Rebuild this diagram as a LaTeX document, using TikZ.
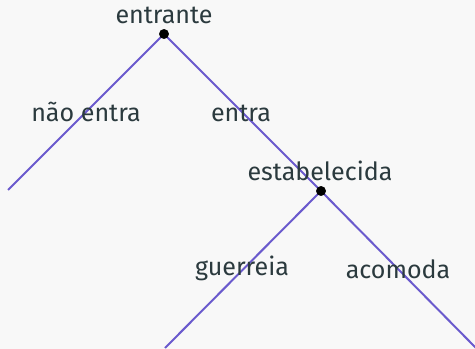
\documentclass[tikz,border=0pt]{standalone}
\usepackage{fontspec}
\setmainfont{Fira Sans}
\definecolor{ramo}{HTML}{6A5ACD}
\definecolor{texto}{HTML}{2B3A3E}
\definecolor{fundo}{HTML}{F8F8F8}
\tikzset{
  rotulo/.style={text=texto, anchor=base, inner sep=0pt, font=\fontsize{18.8}{22}\selectfont},
  galho/.style={color=ramo, line width=1.5pt}
}
\begin{document}
\begin{tikzpicture}[x=0.75pt,y=-0.75pt]
\fill[fundo] (0,0) rectangle (475,349);
\useasboundingbox (0,0) rectangle (475,349);
\coordinate (entrante) at (164,34);
\coordinate (fora) at (8,190);
\coordinate (estab) at (321,191);
\coordinate (guerra) at (165,348);
\coordinate (acomoda) at (476,348);
\draw[galho] (entrante) -- (fora);
\draw[galho] (entrante) -- (estab);
\draw[galho] (estab) -- (guerra);
\draw[galho] (estab) -- (acomoda);
\filldraw[black] (entrante) circle (3.5pt);
\filldraw[black] (estab) circle (3.5pt);
\node[rotulo] (lEntrante) at (164,24) {entrante};
\node[rotulo] (lNaoEntra) at (86,122) {não entra};
\node[rotulo] (lEntra) at (241,122) {entra};
\node[rotulo] (lEstab) at (320,181) {estabelecida};
\node[rotulo] (lGuerreia) at (242,276) {guerreia};
\node[rotulo] (lAcomoda) at (398,278) {acomoda};
\end{tikzpicture}
\end{document}
